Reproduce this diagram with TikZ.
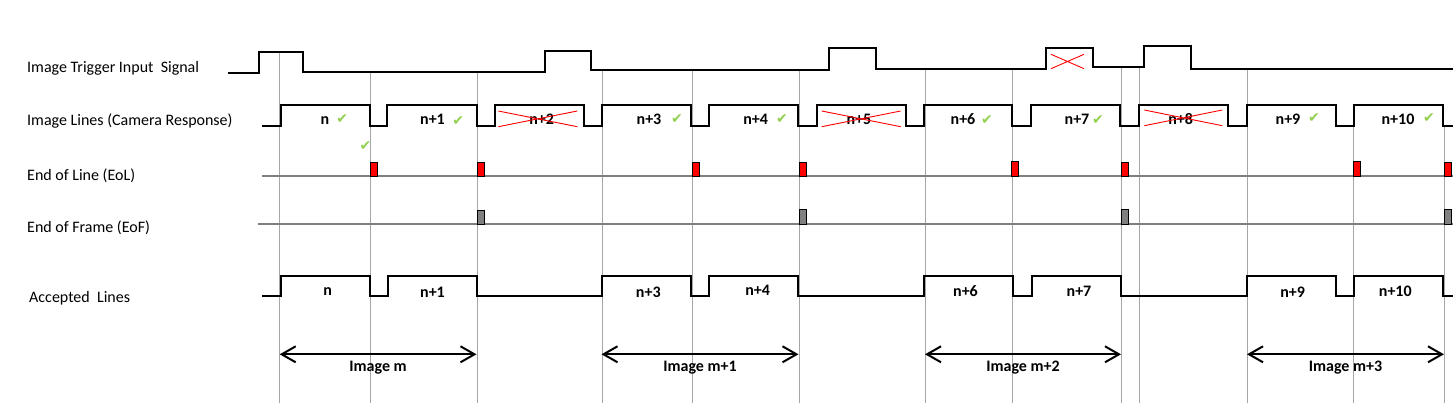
\documentclass[tikz,border=0pt]{standalone}
\usepackage{fontspec}
\setmainfont{Carlito}
\newfontfamily\tickfont{DejaVu Sans}
\usetikzlibrary{positioning,arrows.meta}
\definecolor{tickgreen}{RGB}{146,208,80}
\definecolor{gridgray}{RGB}{166,166,166}
\definecolor{axisgray}{RGB}{128,128,128}
\tikzset{
  wave/.style={line width=2pt,line join=miter},
  gridline/.style={gridgray,line width=1pt},
  axisline/.style={axisgray,line width=1.3pt},
  eolmark/.style={fill=red},
  eofmark/.style={fill=axisgray},
  redcross/.style={red,line width=0.9pt},
  rowlabel/.style={anchor=base west,inner sep=0pt,font=\fontsize{16}{19}\selectfont},
  linelabel/.style={anchor=base,inner sep=0pt,font=\fontsize{16}{19}\selectfont\bfseries},
  imglabel/.style={font=\fontsize{16}{19}\selectfont\bfseries},
  okmark/.style={tickgreen,inner sep=0pt,font=\fontsize{14}{16}\tickfont},
  imgarrow/.style={draw,line width=2pt,{Straight Barb[length=14pt,width=16pt]}-{Straight Barb[length=14pt,width=16pt]}}
}
\begin{document}
\begin{tikzpicture}[x=1pt,y=-1pt]
  \useasboundingbox (0,0) rectangle (1453,403);

  \draw[gridline] (279,52.5) -- (279,403);
  \draw[gridline] (370,72) -- (370,403);
  \draw[gridline] (477,72) -- (477,403);
  \draw[gridline] (602,70) -- (602,403);
  \draw[gridline] (692,70) -- (692,403);
  \draw[gridline] (799,70) -- (799,403);
  \draw[gridline] (925,69.5) -- (925,403);
  \draw[gridline] (1012,69.5) -- (1012,403);
  \draw[gridline] (1121,67.5) -- (1121,403);
  \draw[gridline] (1139,67.5) -- (1139,403);
  \draw[gridline] (1247,69) -- (1247,403);
  \draw[gridline] (1353,126) -- (1353,403);
  \draw[gridline] (1444,126) -- (1444,403);

  \node[rowlabel] (trig) at (27,72.5)  {Image Trigger Input~ Signal};
  \node[rowlabel] (lines) at (27,126) {Image Lines (Camera Response)};
  \node[rowlabel] (eol) at (27,180.5)  {End of Line (EoL)};
  \node[rowlabel] (eof) at (27,233)  {End of Frame (EoF)};
  \node[rowlabel] (acc) at (29,302.5)  {Accepted~ Lines};

  \draw[wave] (228,73.5) -| (259,52.5) -| (303,72) -| (545,51) -| (591,70)
    -| (829,48.5) -| (876,69.5) -| (1046,48.5) -| (1093,67.5) -| (1144,46.5)
    -| (1191,69) -- (1453,69);
  \draw[redcross] (1051,54.3) -- (1084,68.7) (1051,68.7) -- (1084,54.3);

  \draw[wave] (262,125.7) -| (281,104.7) -| (370,125.7) -| (387,104.7) -| (477,125.7)
    -| (495,104.7) -| (584,125.7) -| (602,104.7) -| (691,125.7) -| (709,104.7)
    -| (798,125.7) -| (817,104.7) -| (906,125.7) -| (924,104.7) -| (1012,125.7)
    -| (1031,104.7) -| (1120,125.7) -| (1139,104.7) -| (1228,125.7) -| (1247,104.7)
    -| (1336,125.7) -| (1354,104.7) -| (1443,125.7) -- (1453,125.7);

  \begin{scope}[every node/.style={linelabel}]
    \node (l0) at (325,124.7) {n};
    \node (l1) at (432.5,124.7) {n+1};
    \node (l2) at (541.7,124.7) {n+2};
    \node (l3) at (649,124.7) {n+3};
    \node (l4) at (755.7,124.7) {n+4};
    \node (l5) at (859,124.7) {n+5};
    \node (l6) at (963,124.7) {n+6};
    \node (l7) at (1077,124.7) {n+7};
    \node (l8) at (1180.7,124.7) {n+8};
    \node (l9) at (1288,124.7) {n+9};
    \node (l10) at (1398,124.7) {n+10};
  \end{scope}

  \begin{scope}[every node/.style={okmark}]
    \node (t0) at (342.3,119.5) {✔};
    \node (t0b) at (365.5,146) {✔};
    \node (t1) at (458.3,121) {✔};
    \node (t3) at (677,119.5) {✔};
    \node (t4) at (782,119.5) {✔};
    \node (t6) at (987,120.5) {✔};
    \node (t7) at (1098,120) {✔};
    \node (t9) at (1314,118.5) {✔};
    \node (t10) at (1429,118.5) {✔};
  \end{scope}

  \draw[redcross] (498.3,111) -- (577.3,126.7) (498.3,126.7) -- (577.3,111);
  \draw[redcross] (821.7,111) -- (900.7,126.7) (821.7,126.7) -- (900.7,111);
  \draw[redcross] (1144.3,110) -- (1222.3,125.7) (1144.3,125.7) -- (1222.3,110);

  \draw[axisline] (262,176) -- (1453,176);
  \draw[eolmark] (370,162) rectangle (377,176);
  \draw[eolmark] (477,162) rectangle (484,176);
  \draw[eolmark] (692,162) rectangle (699,176);
  \draw[eolmark] (799,162) rectangle (806,176);
  \draw[eolmark] (1011.5,161) rectangle (1018.5,176);
  \draw[eolmark] (1121,162) rectangle (1128,176);
  \draw[eolmark] (1353,161) rectangle (1360,176);
  \draw[eolmark] (1444,162) rectangle (1451,176);

  \draw[axisline] (258,224) -- (1453,224);
  \draw[eofmark] (477,210) rectangle (484,224);
  \draw[eofmark] (799,209) rectangle (806,224);
  \draw[eofmark] (1121,209) rectangle (1128,224);
  \draw[eofmark] (1444,209) rectangle (1451,224);

  \draw[wave] (262,296) -| (281,275.7) -| (370,296) -| (388,275.7) -| (477,296)
    -| (602,275.7) -| (691,296) -| (709,275.7) -| (798,296) -| (924,275.7)
    -| (1012.5,296) -| (1031.5,275.7) -| (1121,296) -| (1247,275.7) -| (1336,296)
    -| (1354,275.7) -| (1443,296) -- (1453,296);

  \begin{scope}[every node/.style={linelabel}]
    \node (a0) at (327.7,295) {n};
    \node (a1) at (432.5,298) {n+1};
    \node (a3) at (648.3,297.7) {n+3};
    \node (a4) at (757.7,295.7) {n+4};
    \node (a6) at (965.5,296) {n+6};
    \node (a7) at (1079,296.7) {n+7};
    \node (a9) at (1292.7,297.7) {n+9};
    \node (a10) at (1395.3,296.7) {n+10};
  \end{scope}

  \coordinate (m0l) at (279.7,354.3);
  \coordinate (m0r) at (476.5,354.3);
  \coordinate (m1l) at (601.5,354.3);
  \coordinate (m1r) at (798.5,354.3);
  \coordinate (m2l) at (925,354.3);
  \coordinate (m2r) at (1121,354.3);
  \coordinate (m3l) at (1247,354.3);
  \coordinate (m3r) at (1444,354.3);

  \path (m0l) edge[imgarrow] node[imglabel,below=2pt] {Image m} (m0r);
  \path (m1l) edge[imgarrow] node[imglabel,below=2pt] {Image m+1} (m1r);
  \path (m2l) edge[imgarrow] node[imglabel,below=2pt] {Image m+2} (m2r);
  \path (m3l) edge[imgarrow] node[imglabel,below=2pt] {Image m+3} (m3r);

\end{tikzpicture}
\end{document}
